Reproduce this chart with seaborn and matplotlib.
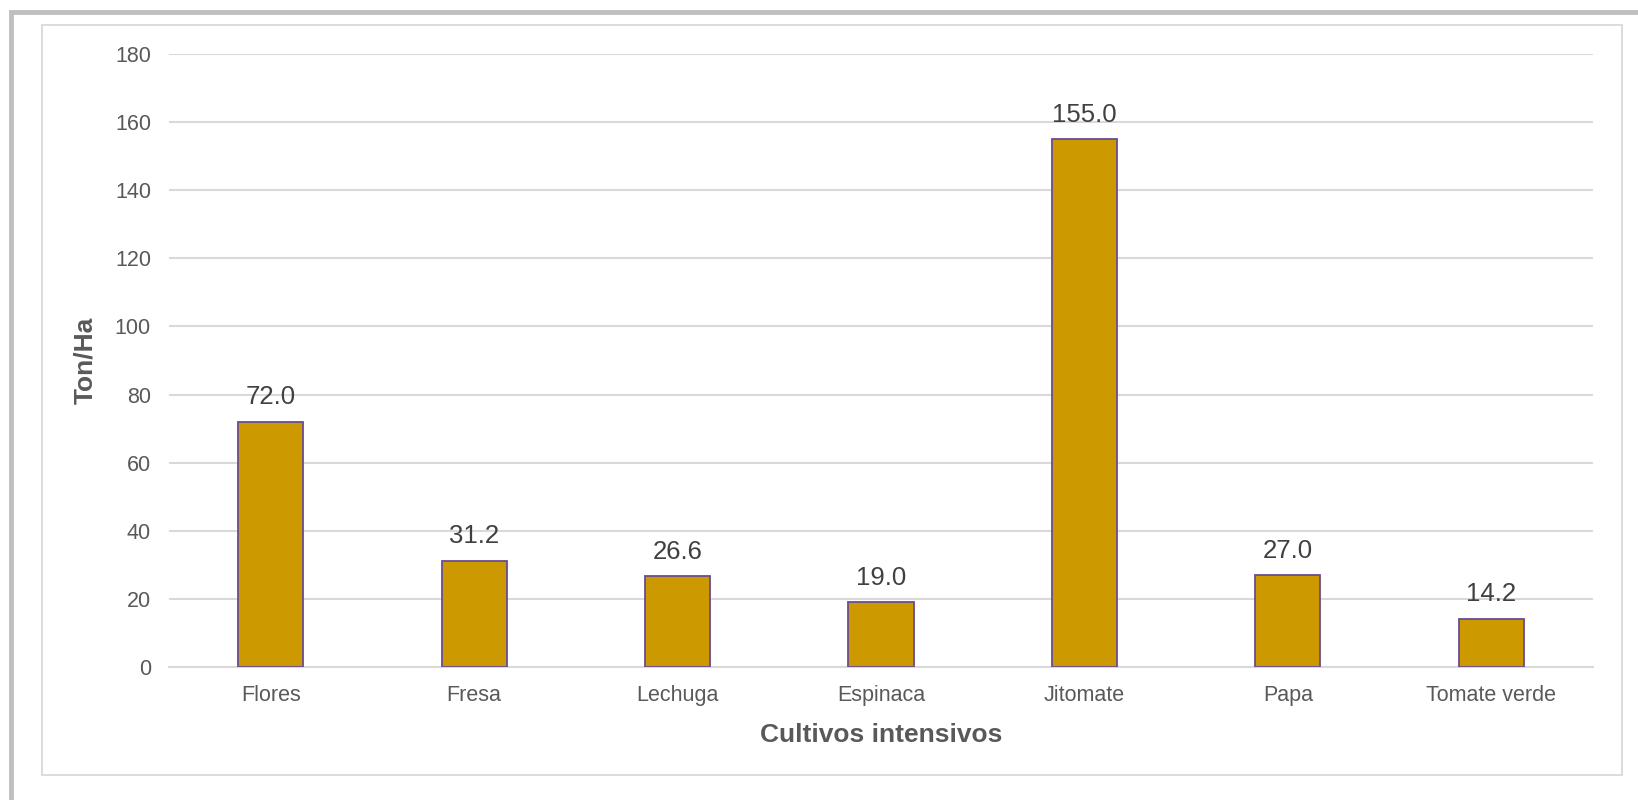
import seaborn as sns
import pandas as pd
import matplotlib.pyplot as plt
from matplotlib.patches import Rectangle

# data
cultivos = ['Flores', 'Fresa', 'Lechuga', 'Espinaca', 'Jitomate', 'Papa', 'Tomate verde']
ton_ha = [72.0, 31.2, 26.6, 19.0, 155.0, 27.0, 14.2]
y_ticks = [0, 20, 40, 60, 80, 100, 120, 140, 160, 180]

df = pd.DataFrame({'cultivo': cultivos, 'ton': ton_ha})

sns.set_style('white')
plt.rcParams['font.family'] = ['Liberation Sans', 'DejaVu Sans']
txt = '#595959'
grid = '#d9d9d9'

W, H = 1638, 800
fig = plt.figure(figsize=(W / 100, H / 100), dpi=100)
ax = fig.add_axes([169 / W, 1 - 667 / H, (1593 - 169) / W, (667 - 54) / H])

sns.barplot(data=df, x='cultivo', y='ton', color='#cc9900', saturation=1,
            edgecolor='#6a4c93', linewidth=1.3, width=0.32, ax=ax, zorder=3)

ax.set_ylim(0, 180)
ax.set_yticks(y_ticks)
ax.yaxis.grid(True, color=grid, linewidth=1.5, zorder=0)
ax.set_axisbelow(True)
for s in ['top', 'right', 'left']:
    ax.spines[s].set_visible(False)
ax.spines['bottom'].set_color(grid)
ax.spines['bottom'].set_linewidth(1.5)
ax.tick_params(axis='both', length=0, labelsize=15.5, labelcolor=txt)
ax.tick_params(axis='y', pad=13)
ax.tick_params(axis='x', pad=13)

ax.set_xlabel('Cultivos intensivos', fontsize=19, fontweight='bold', color=txt, labelpad=12)
ax.set_ylabel('Ton/Ha', fontsize=19, fontweight='bold', color=txt, labelpad=13)

ax.bar_label(ax.containers[0], fmt='%.1f', padding=9, fontsize=18.5, color='#404040')

# outer frame (cut off on right/bottom) and inner chart box
fig.patches.append(Rectangle((11 / W, -0.1), 1.2, 1 - 12.5 / H + 0.1, transform=fig.transFigure,
                             fill=False, edgecolor='#bfbfbf', linewidth=3.5))
fig.patches.append(Rectangle((42 / W, 1 - 775 / H), (1622 - 42) / W, (775 - 25) / H,
                             transform=fig.transFigure, fill=False, edgecolor=grid, linewidth=1.3))

fig.savefig('out.png', dpi=100)
